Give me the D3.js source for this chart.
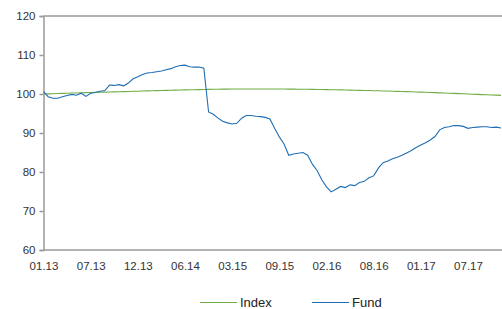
<!DOCTYPE html>
<html>
<head>
<meta charset="utf-8">
<script src="https://cdn.jsdelivr.net/npm/d3@7"></script>
<style>
  body { margin: 0; background: #fff; }
  svg { display: block; font-family: "Liberation Sans", Arial, sans-serif; }
</style>
</head>
<body>
<svg id="chart"></svg>
<script>
// x labels sit on every 10th observation
const tickLabels = ["01.13", "07.13", "12.13", "06.14", "03.15", "09.15", "02.16", "08.16", "01.17", "07.17"];
const yTicks = [60, 70, 80, 90, 100, 110, 120];

const fund = [
  100.6, 99.3, 98.9, 98.9, 99.3, 99.6, 99.9, 99.7, 100.2, 99.4,
  100.2, 100.4, 100.7, 100.9, 102.3, 102.2, 102.4, 102.1, 102.8, 103.9,
  104.4, 105.0, 105.4, 105.5, 105.7, 105.9, 106.2, 106.5, 107.0, 107.3,
  107.4, 107.0, 106.9, 106.9, 106.6, 95.4, 94.8, 93.8, 93.0, 92.6,
  92.3, 92.5, 93.8, 94.5, 94.5, 94.3, 94.2, 94.0, 93.6, 91.2,
  89.0, 87.2, 84.3, 84.6, 84.8, 85.0, 84.3, 82.0, 80.4, 78.0,
  76.2, 74.9, 75.6, 76.3, 76.0, 76.7, 76.5, 77.3, 77.6, 78.5,
  79.0, 81.0, 82.4, 82.8, 83.4, 83.8, 84.3, 84.9, 85.5, 86.3,
  86.9, 87.5, 88.2, 89.1, 90.8, 91.4, 91.6, 91.9, 91.9, 91.7,
  91.2, 91.4, 91.5, 91.6, 91.6, 91.4, 91.5, 91.3
];

const index = [
  100.00, 100.04, 100.08, 100.12, 100.16, 100.20, 100.24, 100.27, 100.31, 100.34,
  100.38, 100.41, 100.45, 100.48, 100.52, 100.55, 100.59, 100.62, 100.66, 100.69,
  100.72, 100.76, 100.79, 100.83, 100.86, 100.90, 100.93, 100.96, 100.99, 101.02,
  101.05, 101.08, 101.10, 101.13, 101.15, 101.18, 101.20, 101.22, 101.24, 101.26,
  101.27, 101.28, 101.29, 101.29, 101.30, 101.30, 101.30, 101.30, 101.29, 101.29,
  101.28, 101.27, 101.26, 101.25, 101.23, 101.22, 101.20, 101.18, 101.16, 101.14,
  101.13, 101.10, 101.08, 101.05, 101.03, 101.00, 100.97, 100.94, 100.91, 100.88,
  100.85, 100.82, 100.78, 100.75, 100.71, 100.68, 100.64, 100.60, 100.56, 100.52,
  100.48, 100.44, 100.39, 100.35, 100.30, 100.25, 100.20, 100.15, 100.10, 100.05,
  100.00, 99.95, 99.90, 99.85, 99.80, 99.75, 99.70, 99.65
];

const width = 502;
const height = 309;
const margin = { top: 16, right: 1, bottom: 59, left: 43.5 };

const svg = d3.select("#chart").attr("width", width).attr("height", height);

const x = d3.scaleLinear()
  .domain([0, fund.length - 1])
  .range([margin.left, width - margin.right]);

const y = d3.scaleLinear()
  .domain([60, 120])
  .range([height - margin.bottom, margin.top]);

const axisColor = "#9a9a9a";

// top border
svg.append("line")
  .attr("x1", margin.left).attr("x2", width)
  .attr("y1", y(120)).attr("y2", y(120))
  .attr("stroke", axisColor).attr("stroke-width", 1.5);

const yAxis = svg.append("g")
  .attr("transform", `translate(${margin.left},0)`)
  .call(d3.axisLeft(y).tickValues(yTicks).tickSize(4).tickPadding(4));
yAxis.select(".domain").attr("stroke", axisColor).attr("stroke-width", 1.5);
yAxis.selectAll(".tick line").attr("stroke", axisColor).attr("stroke-width", 1.5);
yAxis.selectAll("text").attr("font-size", "11.5px").attr("fill", "#333")
  .attr("font-family", "Liberation Sans, Arial, sans-serif");

const xAxis = svg.append("g")
  .attr("transform", `translate(0,${y(60)})`)
  .call(d3.axisBottom(x)
    .tickValues(tickLabels.map((d, i) => i * 10))
    .tickFormat((d) => tickLabels[d / 10])
    .tickSize(0).tickPadding(12));
xAxis.select(".domain").attr("stroke", axisColor).attr("stroke-width", 1.5)
  .attr("d", `M${margin.left},0H${width}`);
xAxis.selectAll("text").attr("font-size", "11.5px").attr("fill", "#333")
  .attr("font-family", "Liberation Sans, Arial, sans-serif");

const line = d3.line()
  .x((d, i) => x(i))
  .y((d) => y(d));

svg.append("path")
  .datum(index)
  .attr("d", line)
  .attr("fill", "none")
  .attr("stroke", "#70ad47")
  .attr("stroke-width", 1.1);

svg.append("path")
  .datum(fund)
  .attr("d", line)
  .attr("fill", "none")
  .attr("stroke", "#1f6eb4")
  .attr("stroke-width", 1.1);

// legend
const legend = [
  { name: "Index", color: "#70ad47", x: 200 },
  { name: "Fund", color: "#1f6eb4", x: 312 }
];
const lg = svg.append("g").attr("transform", "translate(0,302.5)");
legend.forEach((d) => {
  lg.append("line")
    .attr("x1", d.x).attr("x2", d.x + 37)
    .attr("y1", 0).attr("y2", 0)
    .attr("stroke", d.color).attr("stroke-width", 1.2);
  lg.append("text")
    .attr("x", d.x + 40).attr("y", 4.5)
    .attr("font-size", "13px")
    .attr("fill", "#222")
    .text(d.name);
});
</script>
</body>
</html>
